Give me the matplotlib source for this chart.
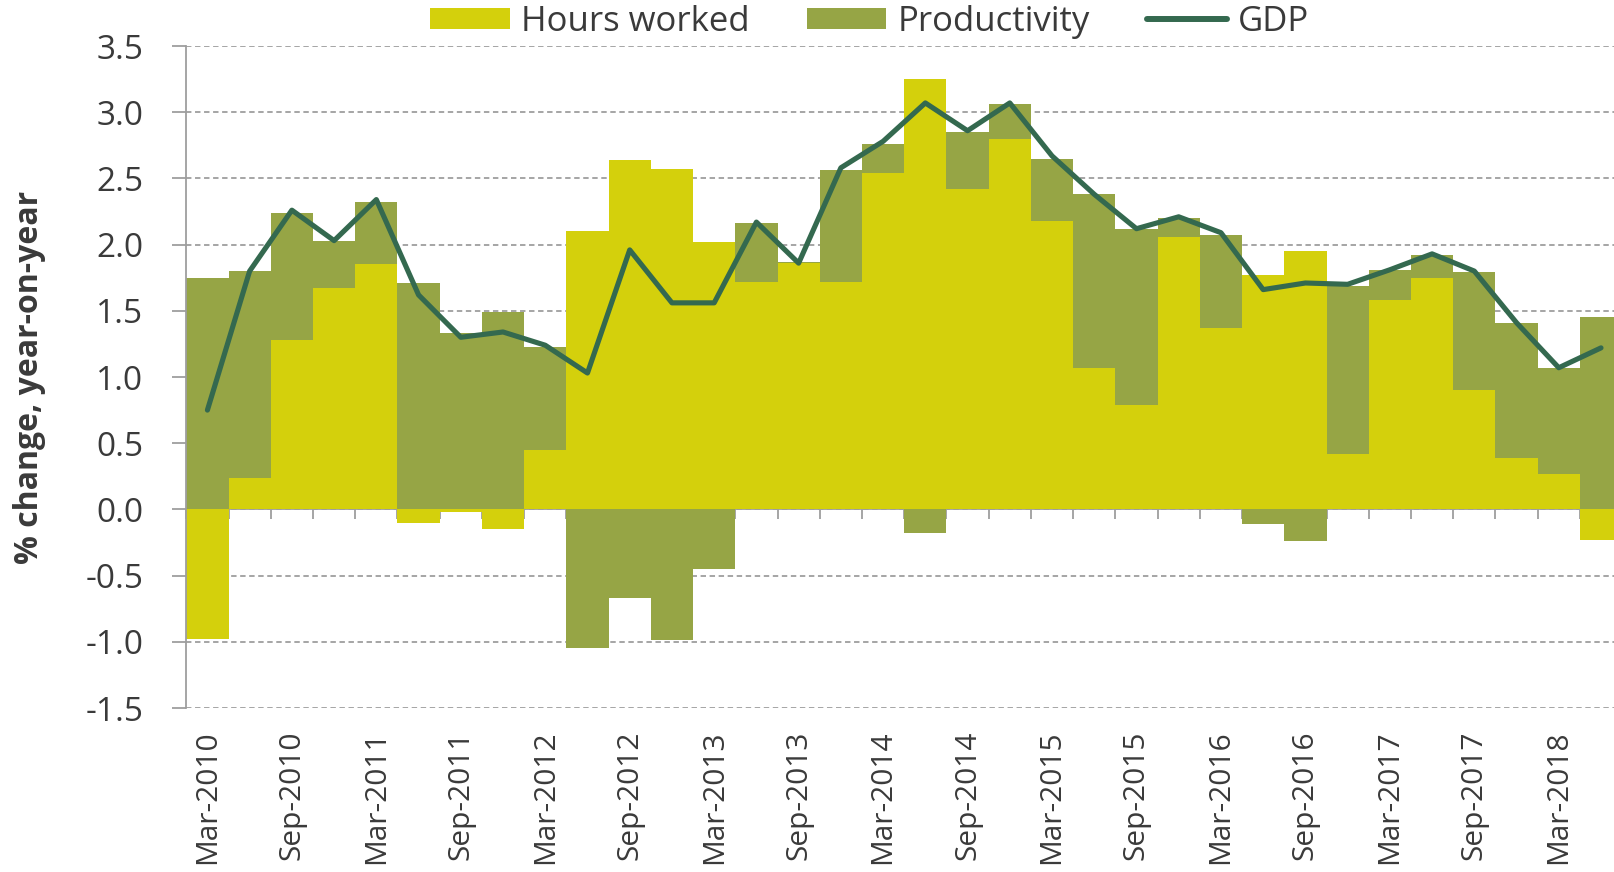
import matplotlib
matplotlib.use("Agg")
import matplotlib.pyplot as plt
import numpy as np
from matplotlib.lines import Line2D
from matplotlib.patches import Patch

# ---------------- data ----------------
quarters = ["Mar-2010", "Jun-2010", "Sep-2010", "Dec-2010",
            "Mar-2011", "Jun-2011", "Sep-2011", "Dec-2011",
            "Mar-2012", "Jun-2012", "Sep-2012", "Dec-2012",
            "Mar-2013", "Jun-2013", "Sep-2013", "Dec-2013",
            "Mar-2014", "Jun-2014", "Sep-2014", "Dec-2014",
            "Mar-2015", "Jun-2015", "Sep-2015", "Dec-2015",
            "Mar-2016", "Jun-2016", "Sep-2016", "Dec-2016",
            "Mar-2017", "Jun-2017", "Sep-2017", "Dec-2017",
            "Mar-2018", "Jun-2018"]

hours = [-0.98, 0.24, 1.28, 1.67, 1.85, -0.10, -0.02, -0.15, 0.45, 2.10,
         2.64, 2.57, 2.02, 1.72, 1.86, 1.72, 2.54, 3.25, 2.42, 2.80,
         2.18, 1.07, 0.79, 2.06, 1.37, 1.77, 1.95, 0.42, 1.58, 1.75,
         0.90, 0.39, 0.27, -0.23]

productivity = [1.75, 1.56, 0.96, 0.36, 0.47, 1.71, 1.33, 1.49, 0.78, -1.05,
                -0.67, -0.99, -0.45, 0.44, 0.01, 0.84, 0.22, -0.18, 0.43, 0.26,
                0.47, 1.31, 1.33, 0.14, 0.70, -0.11, -0.24, 1.27, 0.23, 0.17,
                0.89, 1.02, 0.80, 1.45]

gdp = [0.75, 1.80, 2.26, 2.03, 2.34, 1.62, 1.30, 1.34, 1.24, 1.03,
       1.96, 1.56, 1.56, 2.17, 1.86, 2.58, 2.78, 3.07, 2.86, 3.07,
       2.67, 2.38, 2.12, 2.21, 2.09, 1.66, 1.71, 1.70, 1.81, 1.93,
       1.80, 1.41, 1.07, 1.22]

tick_labels = ["Mar-2010", "Sep-2010", "Mar-2011", "Sep-2011", "Mar-2012",
               "Sep-2012", "Mar-2013", "Sep-2013", "Mar-2014", "Sep-2014",
               "Mar-2015", "Sep-2015", "Mar-2016", "Sep-2016", "Mar-2017",
               "Sep-2017", "Mar-2018"]

y_ticks = [-1.5, -1.0, -0.5, 0.0, 0.5, 1.0, 1.5, 2.0, 2.5, 3.0, 3.5]

# ---------------- style ----------------
C_HOURS = "#D4D00C"
C_PROD = "#96A545"
C_GDP = "#34694F"
C_GRID = "#9E9E9E"
C_TEXT = "#3A3A3A"
FONT = "Open Sans"

plt.rcParams["font.family"] = [FONT, "DejaVu Sans"]

W, H = 1614, 872
fig = plt.figure(figsize=(W / 100, H / 100), dpi=100)

left_px, top_px, bottom_px = 186.3, 46.0, 708.0
bar_px = 42.23
n = len(quarters)
ax = fig.add_axes([left_px / W, 1 - bottom_px / H,
                   n * bar_px / W, (bottom_px - top_px) / H])

x = np.arange(n)
h = np.array(hours)
p = np.array(productivity)
p_bottom = np.where(np.sign(p) == np.sign(h), h, 0.0)

ax.bar(x, h, width=1.0, color=C_HOURS, linewidth=0, zorder=2)
ax.bar(x, p, width=1.0, bottom=p_bottom, color=C_PROD, linewidth=0, zorder=2)
ax.plot(x, gdp, color=C_GDP, linewidth=3.7, solid_joinstyle="round",
        solid_capstyle="round", zorder=4)

ax.set_xlim(-0.5, n - 0.5)
ax.set_ylim(-1.5, 3.5)

# grid
ax.set_yticks(y_ticks)
ax.set_yticklabels([f"{v:.1f}" for v in y_ticks])
ax.yaxis.grid(True, color=C_GRID, linestyle=(0, (3, 2)), linewidth=1.3, zorder=0)
ax.set_axisbelow(True)

for s in ["top", "right", "bottom"]:
    ax.spines[s].set_visible(False)
ax.spines["left"].set_color(C_GRID)
ax.spines["left"].set_linewidth(1.3)

ax.tick_params(axis="y", colors=C_GRID, length=10, width=1.3, pad=21,
               labelsize=24, labelcolor=C_TEXT)

# x tick labels at the bottom (every other quarter)
ax.set_xticks(x[::2])
ax.set_xticklabels(tick_labels, rotation=90)
ax.tick_params(axis="x", length=0, pad=16, labelsize=21.5, labelcolor=C_TEXT)

# horizontal category axis at zero, with tick marks between categories
sec = ax.secondary_xaxis(0.0, transform=ax.transData)
sec.set_xticks(np.arange(n + 1) - 0.5)
sec.set_xticklabels([])
sec.tick_params(axis="x", colors=C_GRID, length=7, width=1.3, direction="out")
sec.spines["bottom"].set_color(C_GRID)
sec.spines["bottom"].set_linewidth(1.3)

ax.set_ylabel("% change, year-on-year", fontsize=23, fontweight="bold",
              color=C_TEXT)
ax.yaxis.set_label_coords(-0.0977, 0.5)

# legend
handles = [Patch(facecolor=C_HOURS, edgecolor="none"),
           Patch(facecolor=C_PROD, edgecolor="none"),
           Line2D([0], [0], color=C_GDP, linewidth=4.3, solid_capstyle="round")]
fig.legend(handles, ["Hours worked", "Productivity", "GDP"], ncol=3,
           loc="center", bbox_to_anchor=(0.5387, 0.975), frameon=False,
           fontsize=25, labelcolor=C_TEXT, handlelength=2.3,
           handleheight=0.58, handletextpad=0.32, columnspacing=1.64,
           borderpad=0, borderaxespad=0)

fig.savefig("out.png", dpi=100)
